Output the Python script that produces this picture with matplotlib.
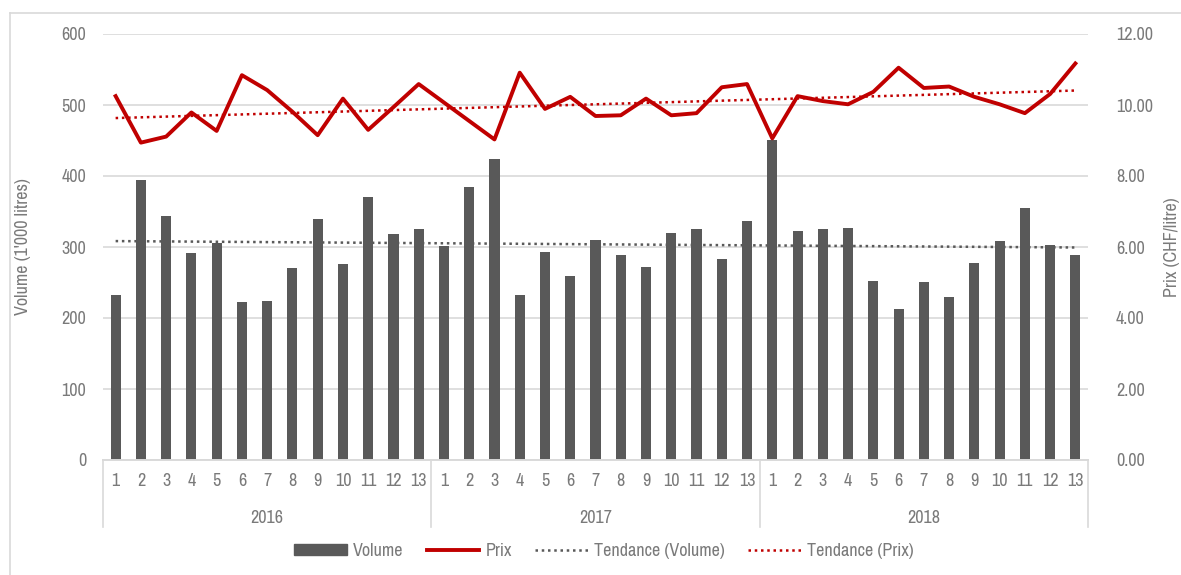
import numpy as np
import matplotlib.pyplot as plt
from matplotlib import font_manager
from matplotlib.patches import Patch
from matplotlib.lines import Line2D
from matplotlib.transforms import blended_transform_factory

# Police étroite si disponible (proche du DIN de l'original)
narrow = None
for f in font_manager.fontManager.ttflist:
    if "Narrow" in f.name or "Condensed" in f.name:
        narrow = f.name
        break
plt.rcParams['font.family'] = [narrow or 'DejaVu Sans', 'DejaVu Sans']
plt.rcParams['font.stretch'] = 'condensed'

# Données
years = ["2016", "2017", "2018"]
months = [str(m) for m in range(1, 14)]

volume_2016 = [232, 395, 343, 292, 306, 222, 224, 271, 339, 276, 371, 319, 326]
volume_2017 = [302, 384, 424, 232, 293, 259, 310, 289, 272, 320, 325, 283, 336]
volume_2018 = [450, 323, 325, 327, 252, 213, 251, 230, 277, 309, 355, 303, 289]

prix_2016 = [10.25, 8.94, 9.11, 9.79, 9.27, 10.84, 10.42, 9.81, 9.15, 10.18, 9.30, 9.94, 10.59]
prix_2017 = [10.07, 9.55, 9.03, 10.91, 9.89, 10.23, 9.69, 9.71, 10.18, 9.71, 9.77, 10.50, 10.59]
prix_2018 = [9.06, 10.25, 10.11, 10.02, 10.37, 11.05, 10.48, 10.52, 10.23, 10.02, 9.77, 10.31, 11.17]

volume = np.array(volume_2016 + volume_2017 + volume_2018)
prix = np.array(prix_2016 + prix_2017 + prix_2018)
x = np.arange(len(volume))

GREY = "#595959"
RED = "#C00000"
TXT = "#7a7a7a"
GRID = "#d9d9d9"
FS = 13

fig = plt.figure(figsize=(11.81, 5.75), dpi=100)
ax = fig.add_axes([103 / 1181, 1 - 460 / 575, 985 / 1181, 426 / 575])
ax2 = ax.twinx()

# Barres volume
ax.bar(x, volume, width=0.4, color=GREY, zorder=2)
ax.set_ylim(0, 600)
ax.set_yticks(range(0, 601, 100))
ax.set_xlim(-0.5, len(x) - 0.5)
ax.yaxis.grid(True, color=GRID, lw=1.2, zorder=0)
ax.set_axisbelow(True)

# Tendances (régression linéaire)
cv = np.polyfit(x, volume, 1)
ax.plot(x, np.polyval(cv, x), color=GREY, ls=(0, (1, 1.5)), lw=1.8, zorder=3)

ax2.plot(x, prix, color=RED, lw=2.8, zorder=4)
cp = np.polyfit(x, prix, 1)
ax2.plot(x, np.polyval(cp, x), color=RED, ls=(0, (1, 1.5)), lw=1.8, zorder=3)
ax2.set_ylim(0, 12)
ax2.set_yticks(np.arange(0, 12.1, 2))
ax2.set_yticklabels([f"{v:.2f}" for v in np.arange(0, 12.1, 2)])

# Style des axes
for a in (ax, ax2):
    for s in ("top", "right", "left"):
        a.spines[s].set_visible(False)
    a.spines["bottom"].set_color(GRID)
    a.spines["bottom"].set_linewidth(1.2)
ax.tick_params(axis="y", length=0, labelsize=FS, labelcolor=TXT, pad=12)
ax2.tick_params(axis="y", length=0, labelsize=FS, labelcolor=TXT, pad=20)

ax.set_xticks(x)
ax.set_xticklabels(months * 3)
ax.tick_params(axis="x", length=0, labelsize=FS, labelcolor=TXT, pad=9)

ax.set_ylabel("Volume (1'000 litres)", fontsize=FS, color=TXT, labelpad=22)
ax2.set_ylabel("Prix (CHF/litre)", fontsize=FS, color=TXT, labelpad=8)

# Séparateurs et années
trans = blended_transform_factory(ax.transData, ax.transAxes)
for b in [-0.5, 12.5, 25.5, 38.5]:
    ax.plot([b, b], [0, -0.157], transform=trans, color=GRID, lw=1.2, clip_on=False)
for i, y in enumerate(years):
    ax.text(13 * i + 6, -0.135, y, transform=trans, ha="center", va="center",
            fontsize=FS, color=TXT)

# Légende
handles = [
    Patch(facecolor=GREY, edgecolor=GREY),
    Line2D([0], [0], color=RED, lw=2.8),
    Line2D([0], [0], color=GREY, ls=(0, (1, 1.5)), lw=1.8),
    Line2D([0], [0], color=RED, ls=(0, (1, 1.5)), lw=1.8),
]
labels = ["Volume", "Prix", "Tendance (Volume)", "Tendance (Prix)"]
fig.legend(handles, labels, loc="center", bbox_to_anchor=(604 / 1181, 1 - 551 / 575), ncol=4,
           frameon=False, fontsize=FS, labelcolor=TXT, handlelength=2.9,
           handleheight=0.6, columnspacing=1.3, handletextpad=0.35)

# Cadre extérieur
fig.add_artist(Line2D([10 / 1181, 10 / 1181], [0, 1 - 13 / 575], transform=fig.transFigure,
                      color=GRID, lw=1.2))
fig.add_artist(Line2D([10 / 1181, 1], [1 - 13 / 575, 1 - 13 / 575], transform=fig.transFigure,
                      color=GRID, lw=1.2))

plt.savefig("out.png", dpi=100)
